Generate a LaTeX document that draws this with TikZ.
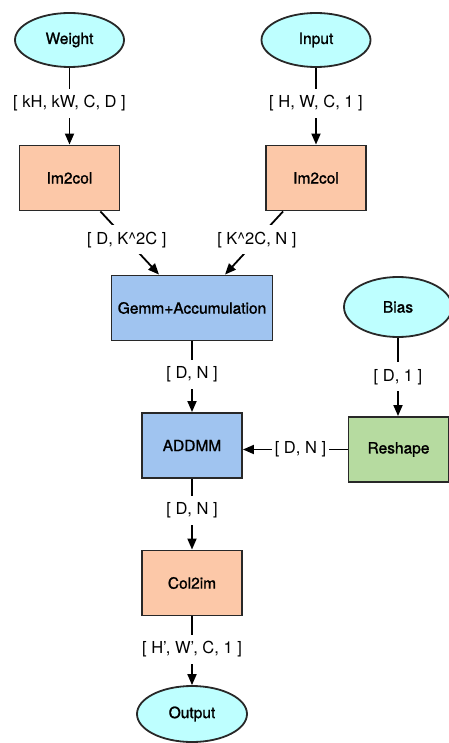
\documentclass[tikz,border=0pt]{standalone}
\usepackage{fontspec}
\setmainfont{TeX Gyre Heros}
\newfontfamily\nodefont{TeX Gyre Heros}[FakeBold=1.2]
\usetikzlibrary{shapes.geometric,arrows.meta}
\definecolor{cyanfill}{RGB}{190,255,255}
\definecolor{salmon}{RGB}{252,200,168}
\definecolor{bluefill}{RGB}{160,196,240}
\definecolor{greenfill}{RGB}{182,219,160}
\definecolor{bordc}{RGB}{40,40,40}
\begin{document}
\begin{tikzpicture}[x=1pt,y=-1pt,
  ell/.style={ellipse, draw=bordc, line width=1.8pt, fill=cyanfill, inner sep=0pt,
    minimum width=109pt, minimum height=54pt, font=\nodefont\fontsize{15.5}{18}\selectfont},
  boxn/.style={rectangle, draw=bordc, line width=1.9pt, inner sep=0pt,
    minimum width=100pt, minimum height=65pt, font=\nodefont\fontsize{15.5}{18}\selectfont},
  lbl/.style={fill=white, inner xsep=3pt, inner ysep=0pt, minimum height=29pt,
    font=\fontsize{16.5}{19}\selectfont},
  arr/.style={line width=1.8pt, -{Triangle[length=11pt,width=9pt]}}]
\useasboundingbox (0,0) rectangle (448,743);
% nodes
\node[ell] (weight) at (69.5,40) {Weight};
\node[ell] (input) at (316,40) {Input};
\node[boxn, fill=salmon] (im1) at (69.5,178) {Im2col};
\node[boxn, fill=salmon] (im2) at (316,178) {Im2col};
\node[boxn, fill=bluefill, minimum width=161pt] (gemm) at (192,308) {Gemm+Accumulation};
\node[ell, minimum width=108pt, minimum height=60pt] (bias) at (398,307) {Bias};
\node[boxn, fill=greenfill] (reshape) at (398.5,449.5) {Reshape};
\node[boxn, fill=bluefill] (addmm) at (192,445.5) {ADDMM};
\node[boxn, fill=salmon] (col2im) at (192,583) {Col2im};
\node[ell, minimum width=110pt, minimum height=56pt] (output) at (192,714) {Output};
% connectors
\draw[arr] (weight) -- node[lbl, pos=0.46] (l1) {[ kH, kW, C, D ]} (im1);
\draw[arr] (input) -- node[lbl, pos=0.46] (l2) {[ H, W, C, 1 ]} (im2);
\draw[arr] ([xshift=-20pt]im1.south east) -- node[lbl, pos=0.45] (l3) {[ D, K\textasciicircum 2C ]} ([xshift=-33pt]gemm.north);
\draw[arr] ([xshift=18pt]im2.south west) -- node[lbl, pos=0.45] (l4) {[ K\textasciicircum 2C, N ]} ([xshift=33pt]gemm.north);
\draw[arr] (gemm) -- node[lbl, pos=0.47] (l5) {[ D, N ]} (addmm);
\draw[arr] (bias.south) -- node[lbl, pos=0.5] (l6) {[ D, 1 ]} (bias.south |- reshape.north);
\draw[arr] (reshape.west) -- node[lbl, pos=0.45] (l7) {[ D, N ]} (reshape.west -| addmm.east);
\draw[arr] (addmm) -- node[lbl, pos=0.44] (l8) {[ D, N ]} (col2im);
\draw[arr] (col2im) -- node[lbl, pos=0.48] (l9) {[ H’, W’, C, 1 ]} (output);
\end{tikzpicture}
\end{document}
